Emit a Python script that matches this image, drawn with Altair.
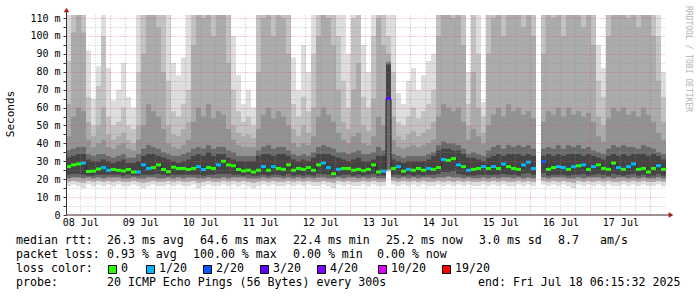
import altair as alt
import pandas as pd

# ---------------- data ----------------
DAY_LABELS = ["08 Jul", "09 Jul", "10 Jul", "11 Jul", "12 Jul",
              "13 Jul", "14 Jul", "15 Jul", "16 Jul", "17 Jul"]
START_HOUR = 6.25      # hours after 08 Jul 00:00 (08 Jul 06:15)
END_HOUR = 246.25      # 18 Jul 06:15
BIN_HOURS = 2

median_ms = [
    27, 28, 28.5, 29, 24.3, 24.5, 25.7, 26.5, 25, 25.4,
    25, 24.6, 25.4, 24, 24, 28, 26, 26.5, 28, 25.4,
    24.2, 26.7, 26, 26, 25.4, 26, 27, 25.4, 26.5, 26,
    28, 30, 28, 27.5, 25.4, 24.6, 25, 24, 25, 27,
    25, 27, 26, 25.5, 28, 25, 26, 25.5, 26.5, 25,
    28, 29, 26.5, 23, 25.5, 26, 26, 25, 25.5, 24.8,
    25.5, 28, 24, 24.5, 65, 26, 27, 24.5, 25.5, 25,
    26, 25, 26, 25.5, 26.5, 31, 30.5, 31.5, 28, 27,
    25, 25.5, 26, 27, 26, 27, 26, 28.5, 27, 26,
    25.5, 28, 29.5, 26, None, 29.8, 25.5, 26.5, 27, 26.5,
    25.5, 27, 27.5, 28, 25.5, 27, 28, 26, 25.5, 29,
    26.5, 25.5, 27, 28.5, 25.5, 26, 24, 26, 27.5, 25.5,
]

loss_level = [
    0, 0, 0, 1, 0, 0, 0, 1, 1, 0,
    0, 0, 0, 0, 1, 1, 1, 0, 0, 0,
    0, 0, 0, 0, 0, 0, 1, 1, 0, 0,
    1, 0, 0, 0, 0, 0, 0, 0, 0, 1,
    0, 1, 0, 0, 0, 0, 0, 0, 0, 0,
    0, 1, 1, 0, 1, 0, 0, 0, 0, 0,
    0, 0, 0, 1, 3, 0, 1, 0, 1, 0,
    0, 0, 1, 0, 0, 1, 0, 0, 1, 0,
    1, 0, 0, 1, 0, 1, 0, 1, 0, 0,
    0, 1, 1, 1, 0, 2, 0, 0, 1, 1,
    0, 1, 0, 1, 0, 1, 0, 0, 0, 0,
    1, 0, 1, 1, 0, 0, 0, 0, 1, 0,
]

smoke_hi_1 = [
    120, 120, 120, 120, 92, 65, 83, 120, 82, 64,
    70, 85, 66, 60, 120, 120, 120, 120, 120, 120,
    120, 85, 78, 88, 120, 120, 120, 120, 120, 120,
    120, 120, 120, 100, 78, 62, 70, 60, 120, 120,
    120, 120, 120, 120, 120, 88, 70, 95, 80, 120,
    120, 120, 120, 120, 120, 120, 90, 120, 120, 95,
    80, 120, 120, 120, 120, 120, 68, 62, 75, 82,
    70, 78, 86, 90, 120, 120, 120, 120, 120, 120,
    80, 120, 120, 63, 120, 120, 120, 120, 120, 120,
    120, 120, 120, 120, None, 120, 120, 120, 120, 120,
    120, 120, 120, 120, 120, 120, 95, 82, 120, 120,
    120, 120, 120, 120, 120, 120, 120, 120, 120, 80,
]
smoke_hi_2 = [
    86, 120, 120, 120, 66, 50, 72, 100, 55, 50,
    52, 60, 50, 48, 80, 120, 120, 120, 120, 120,
    75, 58, 55, 62, 70, 120, 120, 120, 120, 120,
    120, 120, 120, 70, 58, 52, 55, 50, 120, 120,
    120, 120, 120, 120, 120, 62, 55, 66, 58, 90,
    120, 120, 120, 120, 100, 75, 60, 110, 120, 66,
    60, 100, 120, 120, 100, 80, 52, 50, 55, 60,
    54, 58, 62, 70, 120, 120, 120, 120, 120, 120,
    62, 120, 90, 55, 120, 120, 120, 120, 120, 120,
    120, 120, 120, 120, None, 120, 120, 120, 120, 120,
    120, 120, 120, 120, 120, 120, 75, 66, 120, 120,
    120, 120, 120, 120, 120, 120, 120, 120, 100, 66,
]
smoke_hi_3 = [
    62, 102, 120, 102, 52, 44, 50, 60, 45, 42,
    44, 46, 42, 40, 50, 90, 120, 120, 105, 80,
    50, 45, 44, 48, 52, 95, 120, 110, 120, 100,
    115, 120, 85, 50, 46, 44, 45, 43, 80, 110,
    120, 100, 120, 110, 90, 48, 44, 50, 46, 60,
    100, 120, 110, 95, 70, 52, 48, 70, 85, 50,
    47, 65, 110, 95, 90, 55, 44, 42, 45, 47,
    44, 46, 48, 52, 100, 120, 120, 110, 120, 95,
    50, 80, 60, 46, 90, 110, 120, 100, 120, 115,
    120, 105, 120, 100, None, 90, 120, 110, 120, 100,
    120, 115, 120, 105, 120, 95, 55, 50, 100, 120,
    115, 120, 110, 120, 105, 120, 115, 100, 75, 52,
]
smoke_hi_4 = [
    44, 55, 60, 58, 42, 38, 40, 42, 38, 37,
    39, 40, 37, 36, 42, 50, 62, 58, 55, 48,
    40, 38, 37, 39, 42, 52, 60, 55, 62, 54,
    58, 56, 48, 42, 39, 38, 38, 38, 48, 56,
    60, 54, 58, 55, 50, 40, 38, 40, 39, 44,
    55, 60, 56, 52, 46, 42, 40, 44, 46, 40,
    39, 44, 55, 50, 86, 42, 38, 37, 38, 39,
    38, 39, 40, 42, 55, 62, 60, 58, 60, 52,
    42, 48, 44, 40, 50, 56, 60, 55, 62, 58,
    60, 56, 58, 54, None, 52, 58, 56, 60, 55,
    60, 56, 58, 55, 57, 52, 44, 41, 54, 60,
    58, 60, 56, 58, 55, 60, 56, 52, 46, 42,
]
smoke_hi_5 = [
    36, 37, 38, 38, 34, 33, 34, 34, 33, 32,
    33, 34, 32, 32, 34, 37, 39, 38, 37, 35,
    34, 33, 33, 34, 35, 37, 38, 37, 39, 37,
    38, 38, 36, 35, 33, 33, 33, 33, 36, 38,
    39, 37, 38, 38, 36, 34, 33, 34, 33, 35,
    38, 39, 38, 37, 35, 35, 34, 35, 36, 34,
    34, 35, 38, 36, 85, 34, 33, 32, 33, 33,
    33, 33, 34, 35, 39, 41, 40, 40, 39, 37,
    34, 35, 34, 33, 36, 38, 39, 37, 39, 38,
    39, 38, 39, 37, None, 37, 38, 37, 39, 37,
    39, 38, 39, 37, 38, 36, 35, 34, 37, 39,
    38, 39, 38, 38, 37, 39, 38, 37, 35, 34,
]
smoke_hi_6 = [
    32, 33, 34, 34, 31, 30, 30, 31, 30, 29,
    30, 31, 29, 29, 30, 33, 34, 34, 33, 32,
    31, 30, 29, 30, 31, 33, 34, 33, 35, 33,
    34, 34, 32, 31, 30, 30, 30, 30, 33, 34,
    34, 33, 34, 34, 33, 31, 30, 31, 30, 32,
    34, 34, 34, 33, 32, 31, 30, 31, 32, 30,
    30, 31, 33, 33, 84, 31, 30, 29, 30, 30,
    30, 30, 31, 33, 36, 37, 37, 36, 36, 34,
    32, 32, 31, 30, 32, 33, 34, 33, 34, 34,
    34, 33, 34, 33, None, 33, 34, 33, 34, 33,
    34, 34, 34, 33, 34, 33, 32, 31, 33, 34,
    33, 34, 33, 34, 34, 34, 33, 34, 33, 31,
]
smoke_lo_1 = [
    16, 17, 16, 15, 17, 16, 17, 16, 17, 16,
    17, 16, 16, 17, 16, 15, 16, 17, 16, 16,
    17, 16, 17, 16, 16, 17, 15, 16, 17, 16,
    16, 17, 16, 17, 16, 17, 16, 15, 16, 17,
    16, 17, 16, 16, 17, 16, 17, 16, 17, 16,
    16, 17, 16, 15, 17, 16, 17, 16, 16, 17,
    16, 17, 16, 16, 24, 17, 16, 17, 16, 17,
    16, 17, 16, 16, 17, 16, 17, 16, 17, 16,
    17, 16, 16, 17, 16, 17, 16, 17, 16, 16,
    17, 16, 17, 16, None, 17, 16, 17, 16, 17,
    16, 15, 17, 16, 17, 16, 17, 16, 17, 16,
    16, 17, 16, 17, 16, 17, 16, 16, 17, 16,
]
smoke_lo_2 = [
    18.5, 19, 18.5, 18, 19, 18.5, 19, 18.5, 19, 18.5,
    19, 18.5, 18.5, 19, 18.5, 18, 18.5, 19, 18.5, 18.5,
    19, 18.5, 19, 18.5, 18.5, 19, 18, 18.5, 19, 18.5,
    18.5, 19, 18.5, 19, 18.5, 19, 18.5, 18, 18.5, 19,
    18.5, 19, 18.5, 18.5, 19, 18.5, 19, 18.5, 19, 18.5,
    18.5, 19, 18.5, 18, 19, 18.5, 19, 18.5, 18.5, 19,
    18.5, 19, 18.5, 18.5, 25, 19, 18.5, 19, 18.5, 19,
    18.5, 19, 18.5, 18.5, 19, 18.5, 19, 18.5, 19, 18.5,
    19, 18.5, 18.5, 19, 18.5, 19, 18.5, 19, 18.5, 18.5,
    19, 18.5, 19, 18.5, None, 19, 18.5, 19, 18.5, 19,
    18.5, 18, 19, 18.5, 19, 18.5, 19, 18.5, 19, 18.5,
    18.5, 19, 18.5, 19, 18.5, 19, 18.5, 18.5, 19, 18.5,
]
smoke_lo_4 = [
    20.5, 21, 21, 20.5, 21, 20.5, 21, 20.5, 21, 21,
    21, 20.5, 20.5, 21, 20.5, 20.5, 21, 21, 20.5, 20.5,
    21, 20.5, 21, 20.5, 21, 21, 20.5, 20.5, 21, 20.5,
    20.5, 21, 20.5, 21, 21, 21, 20.5, 20.5, 20.5, 21,
    20.5, 21, 21, 20.5, 21, 20.5, 21, 20.5, 21, 20.5,
    21, 21, 20.5, 20.5, 21, 20.5, 21, 21, 20.5, 21,
    20.5, 21, 20.5, 20.5, 25.5, 21, 20.5, 21, 20.5, 21,
    20.5, 21, 21, 20.5, 21, 21, 21.5, 21, 21, 20.5,
    21, 20.5, 20.5, 21, 20.5, 21, 20.5, 21, 21, 20.5,
    21, 20.5, 21, 20.5, None, 21, 20.5, 21, 21, 21,
    20.5, 20.5, 21, 20.5, 21, 21, 21, 20.5, 21, 20.5,
    21, 21, 20.5, 21, 20.5, 21, 20.5, 20.5, 21, 20.5,
]
smoke_lo_6 = [
    22.5, 23, 23, 22.5, 22, 22, 22.5, 22.5, 22.5, 22.5,
    22.5, 22, 22.5, 22, 22, 22.5, 22.5, 22.5, 23, 22.5,
    22, 22.5, 22.5, 22.5, 22.5, 22.5, 22.5, 22, 22.5, 22.5,
    23, 23, 23, 22.5, 22.5, 22, 22.5, 22, 22, 22.5,
    22, 22.5, 22.5, 22, 23, 22, 22.5, 22, 22.5, 22,
    23, 23, 22.5, 21.5, 22, 22.5, 22.5, 22, 22.5, 22,
    22.5, 23, 22, 22, 66, 22.5, 22.5, 22, 22.5, 22,
    22.5, 22, 22.5, 22.5, 23, 24, 24, 24.5, 23, 22.5,
    22, 22, 22.5, 22.5, 22.5, 22.5, 22.5, 23, 22.5, 22.5,
    22, 23, 23.5, 22.5, None, 23.5, 22, 22.5, 22.5, 22.5,
    22, 22.5, 22.5, 23, 22, 22.5, 23, 22.5, 22, 23,
    22.5, 22, 22.5, 23, 22, 22.5, 21.5, 22, 23, 22,
]

LOSS_LABELS = ["0", "1/20", "2/20", "3/20", "4/20", "10/20", "19/20"]
LOSS_COLORS = ["#26ff00", "#00b8ff", "#0059ff", "#5e00ff", "#7e00ff", "#dd00ff", "#ff0000"]

RTT_STATS = ["26.3 ms avg", "64.6 ms max", "22.4 ms min", "25.2 ms now",
             "3.0 ms sd", "8.7", "am/s"]
LOSS_STATS = ["0.93 % avg", "100.00 % max", "0.00 % min", "0.00 % now"]
PROBE_TEXT = "20 ICMP Echo Pings (56 Bytes) every 300s"
END_TEXT = "end: Fri Jul 18 06:15:32 2025"
WATERMARK = "RRDTOOL / TOBI OETIKER"
Y_TITLE = "Seconds"

# ---------------- styling / layout ----------------
MONO = "DejaVu Sans Mono"
SMOKE_COLORS = ["#dddddd", "#c2c2c2", "#ababab", "#929292", "#6a6a6a", "#444444"]
AXIS_COLOR = "#333333"
ARROW_COLOR = "#a81c1c"
PL, PT = 66, 15          # plot-area offset in the page
W, H = 600, 200
Y_MAX = 111.7

n = len(median_ms)
t0 = [START_HOUR + BIN_HOURS * i for i in range(n)]
df = pd.DataFrame({
    "t0": t0,
    "t1": [t + BIN_HOURS for t in t0],
    "tm": [t + BIN_HOURS / 2 for t in t0],
    "median": median_ms,
    "loss": loss_level,
    "hi1": smoke_hi_1, "hi2": smoke_hi_2, "hi3": smoke_hi_3,
    "hi4": smoke_hi_4, "hi5": smoke_hi_5, "hi6": smoke_hi_6,
    "lo1": smoke_lo_1, "lo2": smoke_lo_2, "lo4": smoke_lo_4, "lo6": smoke_lo_6,
})

xs = alt.Scale(domain=[START_HOUR, END_HOUR], nice=False, zero=False)
ys = alt.Scale(domain=[0, Y_MAX], nice=False, zero=True)

day_list = "[" + ",".join("'" + d + "'" for d in DAY_LABELS) + "]"
x_label_expr = "datum.value % 24 === 12 ? " + day_list + "[floor(datum.value / 24)] : ''"

x_axis = alt.Axis(
    values=list(range(12, 241, 6)),
    grid=True,
    gridColor={"condition": {"test": "datum.value % 24 === 0", "value": "#de4f4f"},
               "value": "#8f8f8f"},
    gridOpacity=0.6, gridDash=[1, 2], gridWidth=1,
    ticks=False, domain=False,
    labelExpr=x_label_expr,
    labelFont=MONO, labelFontSize=10, labelColor="#000000",
    labelPadding=2, labelAngle=0, labelBaseline="top",
    labelFlush=False, labelOverlap=False, title=None, zindex=1,
)
y_axis = alt.Axis(
    values=list(range(0, 111, 5)),
    grid=True,
    gridColor={"condition": {"test": "datum.value % 10 === 0", "value": "#de4f4f"},
               "value": "#8f8f8f"},
    gridOpacity=0.6, gridDash=[1, 2], gridWidth=1,
    ticks=True, tickSize=3, tickColor=AXIS_COLOR, domain=False,
    labelExpr="datum.value % 10 === 0 ? (datum.value === 0 ? '0' : datum.value + ' m') : ''",
    labelFont=MONO, labelFontSize=10, labelColor="#000000",
    labelPadding=3, labelOverlap=False, labelFlush=False, title=None, zindex=1,
)


def X(f):
    return alt.X(f + ":Q", scale=xs, axis=x_axis)


def Y(f):
    return alt.Y(f + ":Q", scale=ys, axis=y_axis)


layers = []
bands = [("lo1", "hi1"), ("lo2", "hi2"), ("lo2", "hi3"),
         ("lo4", "hi4"), ("lo4", "hi5"), ("lo6", "hi6")]
for (lo, hi), col in zip(bands, SMOKE_COLORS):
    layers.append(
        alt.Chart(df).mark_rect(color=col, clip=True, strokeWidth=0).encode(
            x=X("t0"), x2="t1", y=Y(lo), y2=hi)
    )

layers.append(
    alt.Chart(df).mark_line(interpolate="step", color="#202020", strokeWidth=1,
                            clip=True, invalid="break-paths-show-domains").encode(
        x=X("tm"), y=Y("median"))
)
layers.append(
    alt.Chart(df).mark_rule(strokeWidth=3, clip=True).encode(
        x=X("t0"), x2="t1", y=Y("median"),
        color=alt.Color("loss:O", scale=alt.Scale(domain=list(range(len(LOSS_COLORS))),
                                                  range=LOSS_COLORS), legend=None))
)

one = alt.InlineData(values=[{"k": 0}])

# axis lines and arrows
layers.append(alt.Chart(one).mark_rule(color=AXIS_COLOR, strokeWidth=1).encode(
    x=alt.value(0), x2=alt.value(603), y=alt.value(H)))
layers.append(alt.Chart(one).mark_rule(color=AXIS_COLOR, strokeWidth=1).encode(
    x=alt.value(0.5), y=alt.value(-3), y2=alt.value(H)))
layers.append(alt.Chart(one).mark_point(shape="triangle-up", filled=True, size=30,
                                        color=ARROW_COLOR, opacity=1).encode(
    x=alt.value(0.5), y=alt.value(-5)))
layers.append(alt.Chart(one).mark_point(shape="triangle-right", filled=True, size=30,
                                        color=ARROW_COLOR, opacity=1).encode(
    x=alt.value(605), y=alt.value(H)))


def text_at(s, px, py, size=11.6, **kw):
    opts = dict(align="left", baseline="middle", font=MONO, fontSize=size, color="#000000")
    opts.update(kw)
    return alt.Chart(one).mark_text(**opts).encode(
        x=alt.value(px - PL), y=alt.value(py - PT), text=alt.value(s))


# y title and watermark
layers.append(text_at(Y_TITLE, 11, 114, size=11, align="center", angle=270))
layers.append(text_at(WATERMARK, 688, 59, size=8, align="center", angle=90, color="#b4b4b4"))

# legend lines
L1, L2, L3, L4 = 241, 255, 269, 283
layers.append(text_at("median rtt:", 16, L1))
for s, px in zip(RTT_STATS, [107, 200, 293, 386, 479, 558, 600]):
    layers.append(text_at(s, px, L1))
layers.append(text_at("packet loss:", 16, L2))
for s, px in zip(LOSS_STATS, [107, 193, 293, 377]):
    layers.append(text_at(s, px, L2))
layers.append(text_at("loss color:", 16, L3))
box_x = [108, 146, 203, 260, 317, 378, 442]
for lab, col, bx in zip(LOSS_LABELS, LOSS_COLORS, box_x):
    layers.append(alt.Chart(one).mark_rect(stroke="#000000", strokeWidth=1).encode(
        x=alt.value(bx - PL + 0.5), x2=alt.value(bx - PL + 8.5),
        y=alt.value(L3 - PT - 3.5), y2=alt.value(L3 - PT + 4.5),
        color=alt.value(col)))
    layers.append(text_at(lab, bx + 13, L3))
layers.append(text_at("probe:", 16, L4))
layers.append(text_at(PROBE_TEXT, 107, L4))
layers.append(text_at(END_TEXT, 478, L4))

chart = alt.layer(*layers).properties(
    width=W, height=H,
    padding={"left": PL, "top": PT, "right": 697 - PL - W, "bottom": 297 - PT - H},
    autosize=alt.AutoSizeParams(type="none"),
    background="white",
).configure_view(stroke=None)

chart.save("out.html", embed_options={"renderer": "svg", "actions": False})
